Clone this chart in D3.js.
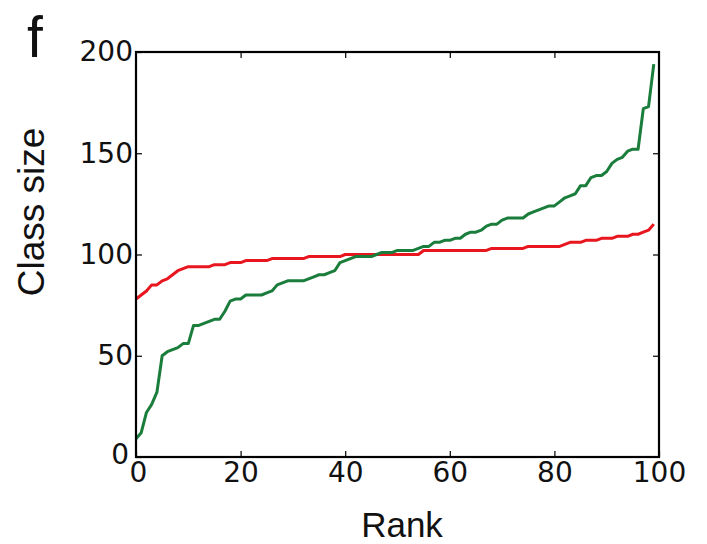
<!DOCTYPE html>
<html>
<head>
<meta charset="utf-8">
<script src="https://cdn.jsdelivr.net/npm/d3@7"></script>
<style>
  html, body { margin: 0; padding: 0; background: #fff; }
  svg { display: block; }
</style>
</head>
<body>
<svg id="chart" width="707" height="544"></svg>
<script>
const ranks = d3.range(0, 100);
const greenValues = [
  9, 12, 22, 26, 32, 50, 52, 53, 54, 56,
  56, 65, 65, 66, 67, 68, 68, 72, 77, 78,
  78, 80, 80, 80, 80, 81, 82, 85, 86, 87,
  87, 87, 87, 88, 89, 90, 90, 91, 92, 96,
  97, 98, 99, 99, 99, 99, 100, 101, 101, 101,
  102, 102, 102, 102, 103, 104, 104, 106, 106, 107,
  107, 108, 108, 110, 111, 111, 112, 114, 115, 115,
  117, 118, 118, 118, 118, 120, 121, 122, 123, 124,
  124, 126, 128, 129, 130, 134, 134, 138, 139, 139,
  141, 145, 147, 148, 151, 152, 152, 172, 173, 194
];
const redValues = [
  78, 80, 82, 85, 85, 87, 88, 90, 92, 93,
  94, 94, 94, 94, 94, 95, 95, 95, 96, 96,
  96, 97, 97, 97, 97, 97, 98, 98, 98, 98,
  98, 98, 98, 99, 99, 99, 99, 99, 99, 99,
  100, 100, 100, 100, 100, 100, 100, 100, 100, 100,
  100, 100, 100, 100, 100, 102, 102, 102, 102, 102,
  102, 102, 102, 102, 102, 102, 102, 102, 103, 103,
  103, 103, 103, 103, 103, 104, 104, 104, 104, 104,
  104, 104, 105, 106, 106, 106, 107, 107, 107, 108,
  108, 108, 109, 109, 109, 110, 110, 111, 112, 115
];
const xTicks = [0, 20, 40, 60, 80, 100];
const yTicks = [0, 50, 100, 150, 200];
const panelLabel = "f";
const xLabel = "Rank";
const yLabel = "Class size";

const mLeft = 136, mRight = 659, mTop = 52, mBottom = 457;
const svg = d3.select("#chart");
const x = d3.scaleLinear().domain([0, 100]).range([mLeft, mRight]);
const y = d3.scaleLinear().domain([0, 200]).range([mBottom, mTop]);

const tickFont = "'DejaVu Sans', sans-serif";
const labelFont = "'Liberation Sans', Arial, sans-serif";

// lines
const line = d3.line().x((d, i) => x(ranks[i])).y(d => y(d));
svg.append("path").datum(redValues)
  .attr("d", line).attr("fill", "none")
  .attr("stroke", "#e8161e").attr("stroke-width", 3).attr("stroke-linejoin", "round");
svg.append("path").datum(greenValues)
  .attr("d", line).attr("fill", "none")
  .attr("stroke", "#1a7d3b").attr("stroke-width", 3).attr("stroke-linejoin", "round");

// axes (inward ticks on all sides)
const styleAxis = g => {
  g.select(".domain").remove();
  g.selectAll("line").attr("stroke", "#000").attr("stroke-width", 1.2);
  g.selectAll("text").attr("font-family", tickFont).attr("font-size", 28).attr("fill", "#111");
};
svg.append("g").attr("transform", `translate(0,${mBottom})`)
  .call(d3.axisBottom(x).tickValues(xTicks).tickSizeInner(-6).tickSizeOuter(0).tickPadding(4).tickFormat(d3.format("d")))
  .call(styleAxis)
  .call(g => g.selectAll("text").attr("dy", "0.71em").attr("y", 5))
  .call(g => g.selectAll(".tick").filter(d => d === 0).select("text").attr("x", 2));
svg.append("g").attr("transform", `translate(0,${mTop})`)
  .call(d3.axisTop(x).tickValues(xTicks.slice(1, -1)).tickSizeInner(-6).tickSizeOuter(0).tickFormat(""))
  .call(styleAxis);
svg.append("g").attr("transform", `translate(${mLeft},0)`)
  .call(d3.axisLeft(y).tickValues(yTicks).tickSizeInner(-6).tickSizeOuter(0).tickPadding(4).tickFormat(d3.format("d")))
  .call(styleAxis)
  .call(g => g.selectAll("text").attr("x", -3))
  .call(g => g.selectAll(".tick").filter(d => d === 0).select("text").attr("x", -7).attr("y", -2));
svg.append("g").attr("transform", `translate(${mRight},0)`)
  .call(d3.axisRight(y).tickValues(yTicks.slice(1, -1)).tickSizeInner(-6).tickSizeOuter(0).tickFormat(""))
  .call(styleAxis);

// frame
svg.append("rect").attr("x", mLeft).attr("y", mTop)
  .attr("width", mRight - mLeft).attr("height", mBottom - mTop)
  .attr("fill", "none").attr("stroke", "#000").attr("stroke-width", 2.2);

// labels
svg.append("text").attr("x", 27).attr("y", 57)
  .attr("font-family", labelFont).attr("font-size", 57).attr("fill", "#111").text(panelLabel);
svg.append("text").attr("x", 402).attr("y", 537).attr("text-anchor", "middle")
  .attr("font-family", labelFont).attr("font-size", 35).attr("fill", "#111").text(xLabel);
svg.append("text").attr("transform", "translate(44,212) rotate(-90)").attr("text-anchor", "middle")
  .attr("font-family", labelFont).attr("font-size", 37).attr("fill", "#111").text(yLabel);
</script>
</body>
</html>
